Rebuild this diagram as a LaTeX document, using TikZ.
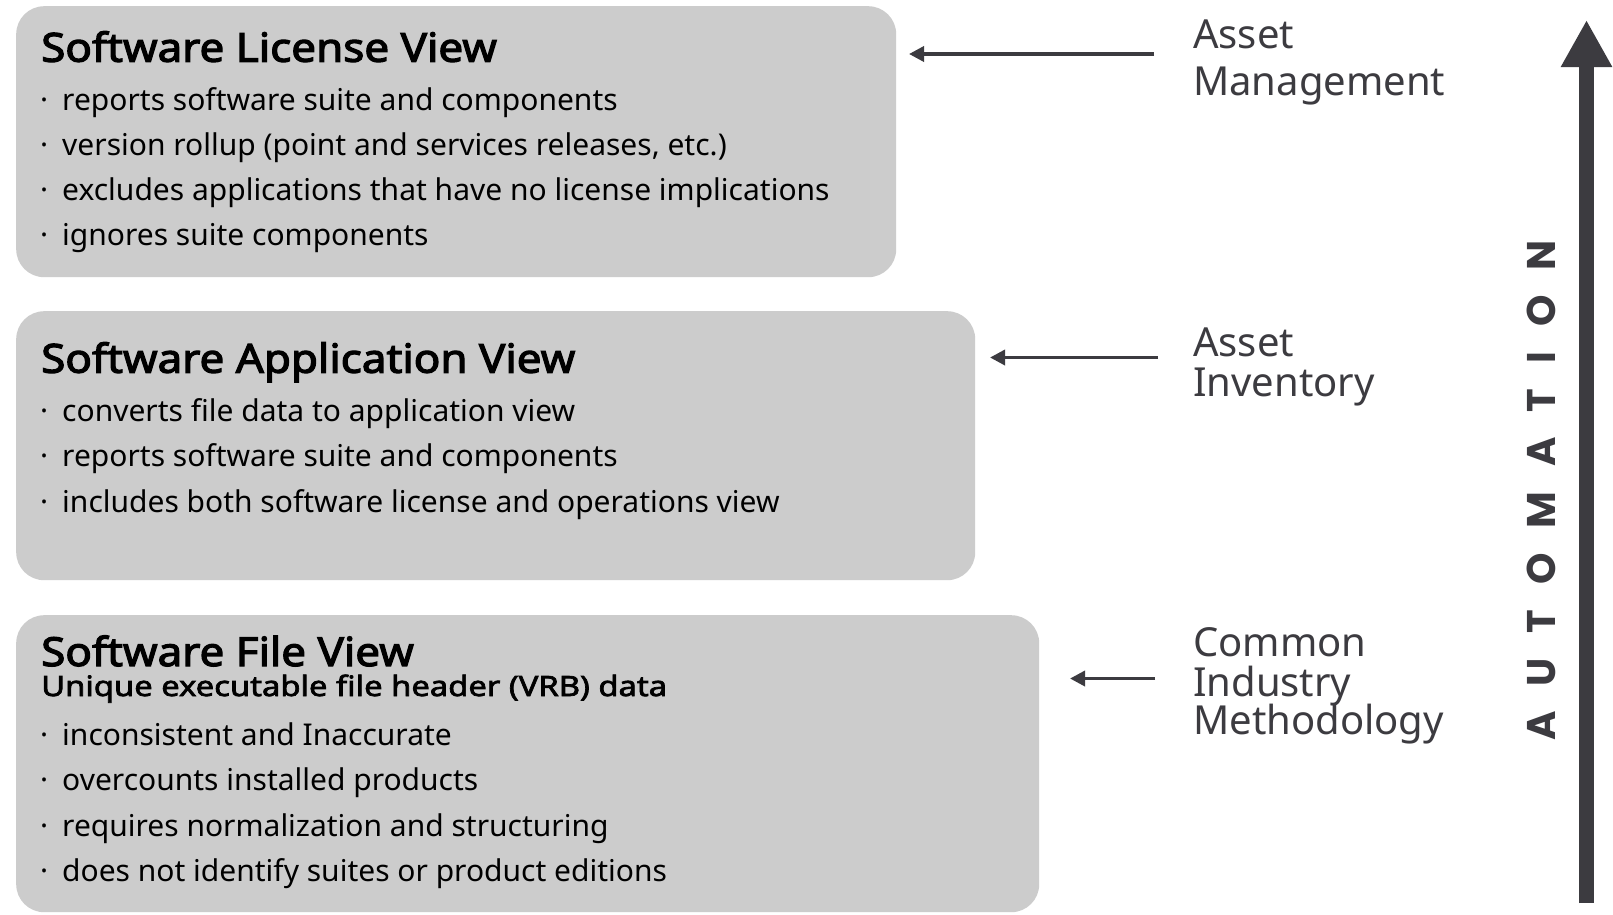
\documentclass[tikz,border=0pt]{standalone}
\usepackage{fontspec}
\setmainfont{Noto Sans}
\newfontfamily\autofont{Poppins}
\newfontfamily\titlefont{Noto Sans}[FakeBold=3, FakeStretch=1.10]
\newfontfamily\subfont{Noto Sans}[FakeBold=2.5, FakeStretch=1.17]
\usetikzlibrary{arrows.meta}
\definecolor{boxgray}{HTML}{CCCCCC}
\definecolor{ink}{HTML}{3C3B40}
\newcommand\itemdot{·\hspace{14pt}}
\tikzset{
  viewbox/.style={draw=none, fill=boxgray, rounded corners=28pt, inner sep=0pt, anchor=north west},
  titletext/.style={anchor=base west, inner sep=0pt, font=\titlefont\fontsize{40}{48}\selectfont},
  subtext/.style={anchor=base west, inner sep=0pt, font=\subfont\fontsize{28}{34}\selectfont},
  itemtext/.style={anchor=base west, inner sep=0pt, font=\fontsize{30}{36}\selectfont},
  labtext/.style={anchor=base west, inner sep=0pt, text=ink, font=\fontsize{40}{48}\selectfont},
  arr/.style={draw=ink, line width=3.5pt, -{Triangle[length=15pt,width=15pt]}},
}
\begin{document}
\begin{tikzpicture}[x=1pt,y=-1pt]
\fill[white] (0,0) rectangle (1613,914);
\useasboundingbox (0,0) rectangle (1613,914);

% boxes
\node[viewbox, minimum width=880pt, minimum height=271pt] (box1) at (16,6) {};
\node[viewbox, minimum width=959pt, minimum height=269pt] (box2) at (16,311) {};
\node[viewbox, minimum width=1023pt, minimum height=297pt] (box3) at (16,615) {};

% box 1
\node[titletext] (b1t) at (41,61.7) {Software License View};
\node[itemtext] (b1a) at (40,110) {\itemdot reports software suite and components};
\node[itemtext] (b1b) at (40,155.3) {\itemdot version rollup (point and services releases, etc.)};
\node[itemtext] (b1c) at (40,200.6) {\itemdot excludes applications that have no license implications};
\node[itemtext] (b1d) at (40,245.9) {\itemdot ignores suite components};

% box 2
\node[titletext] (b2t) at (41,372.7) {Software Application View};
\node[itemtext] (b2a) at (40,421.5) {\itemdot converts file data to application view};
\node[itemtext] (b2b) at (40,466.8) {\itemdot reports software suite and components};
\node[itemtext] (b2c) at (40,512.1) {\itemdot includes both software license and operations view};

% box 3
\node[titletext] (b3t) at (41,666) {Software File View};
\node[subtext] (b3s) at (41,696) {Unique executable file header (VRB) data};
\node[itemtext] (b3a) at (40,745.5) {\itemdot inconsistent and Inaccurate};
\node[itemtext] (b3b) at (40,790.8) {\itemdot overcounts installed products};
\node[itemtext] (b3c) at (40,836.1) {\itemdot requires normalization and structuring};
\node[itemtext] (b3d) at (40,881.4) {\itemdot does not identify suites or product editions};

% right labels
\node[labtext] (l1a) at (1193,48.3) {Asset};
\node[labtext] (l1b) at (1193,95) {Management};
\node[labtext] (l2a) at (1193,356) {Asset};
\node[labtext] (l2b) at (1193,396) {Inventory};
\node[labtext] (l3a) at (1193,656.7) {Common};
\node[labtext] (l3b) at (1193,696) {Industry};
\node[labtext] (l3c) at (1193,734.5) {Methodology};

% arrows to boxes
\coordinate (t1) at (1154,54);
\coordinate (h1) at (909,54);
\coordinate (t2) at (1158,357.5);
\coordinate (h2) at (990,357.5);
\coordinate (t3) at (1155,678.5);
\coordinate (h3) at (1070,678.5);
\draw[arr] (t1) -- (h1);
\draw[arr] (t2) -- (h2);
\draw[arr] (t3) -- (h3);

% automation arrow
\coordinate (autobot) at (1586.5,903);
\coordinate (autotop) at (1586.5,20);
\draw[draw=ink, line width=15pt, -{Triangle[length=47pt,width=48pt]}] (autobot) -- (autotop);
\node[rotate=90, anchor=base, inner sep=0pt, text=ink, font=\autofont\bfseries\fontsize{40}{48}\selectfont] (auto) at (1555,490.5)
  {A\kern25pt U\kern25pt T\kern25pt O\kern25pt M\kern25pt A\kern25pt T\kern25pt I\kern25pt O\kern25pt N};
\end{tikzpicture}
\end{document}
